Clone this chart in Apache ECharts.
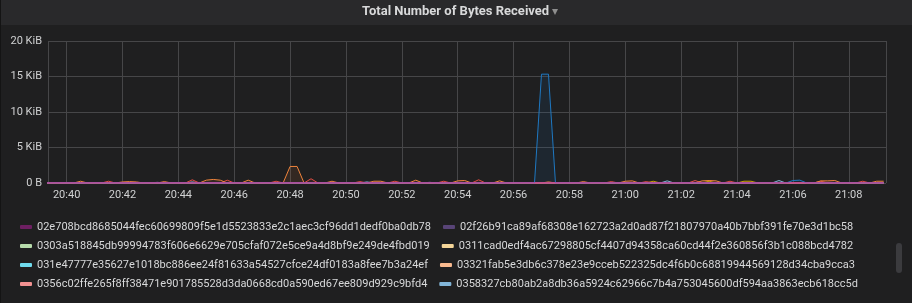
<!DOCTYPE html>
<html><head><meta charset="utf-8">
<script src="https://cdn.jsdelivr.net/npm/echarts@6/dist/echarts.min.js"></script>
<style>html,body{margin:0;padding:0;background:#1f1f20;}#c{width:912px;height:303px;}</style>
</head><body><div id="c"></div>
<script>
const DAY = '2019-01-01T';
const xMin = '20:39:20';
const xMax = '21:09:20';
const yTicks = [0, 5, 10, 15, 20]; // KiB

const legendNames = [
  '02e708bcd8685044fec60699809f5e1d5523833e2c1aec3cf96dd1dedf0ba0db78',
  '02f26b91ca89af68308e162723a2d0ad87f21807970a40b7bbf391fe70e3d1bc58',
  '0303a518845db99994783f606e6629e705cfaf072e5ce9a4d8bf9e249de4fbd019',
  '0311cad0edf4ac67298805cf4407d94358ca60cd44f2e360856f3b1c088bcd4782',
  '031e47777e35627e1018bc886ee24f81633a54527cfce24df0183a8fee7b3a24ef',
  '03321fab5e3db6c378e23e9cceb522325dc4f6b0c68819944569128d34cba9cca3',
  '0356c02ffe265f8ff38471e901785528d3da0668cd0a590ed67ee809d929c9bfd4',
  '0358327cb80ab2a8db36a5924c62966c7b4a753045600df594aa3863ecb618cc5d'
];
const legendColors = ['#6D1F62','#584477','#B7DBAB','#F4D598','#70DBED','#F9BA8F','#F29191','#82B5D8'];

// values in KiB, [time, value]
const flat = [['20:39:15',0],['21:09:15',0]];
const lightBlueVals = [['20:39:15',0],['20:44:15',0],['20:44:30',0.15],['20:44:45',0],['20:50:30',0],['20:50:45',0.15],['20:51:00',0],
  ['21:01:15',0],['21:01:30',0.3],['21:01:45',0],['21:05:15',0],['21:05:30',0.35],['21:05:45',0],['21:09:15',0]];
const violetVals = [['20:39:15',0],['20:43:00',0],['20:43:15',0.1],['20:43:30',0],['20:52:45',0],['20:53:00',0.1],['20:53:15',0],['21:09:15',0]];
const oliveVals = [['20:39:15',0],['21:00:45',0],['21:01:00',0.25],['21:01:15',0],['21:02:45',0],['21:03:00',0.25],['21:03:15',0],
  ['21:04:00',0],['21:04:15',0.25],['21:04:30',0.25],['21:04:45',0],['21:09:15',0]];
const redVals = [['20:39:15',0],['20:41:15',0],['20:41:30',0.25],['20:41:45',0],['20:44:15',0],['20:44:30',0.45],['20:44:45',0],
  ['20:45:30',0],['20:45:45',0.4],['20:46:00',0],['20:47:15',0],['20:47:30',0.25],['20:47:45',0],
  ['20:48:30',0],['20:48:45',0.6],['20:49:00',0],['20:50:15',0],['20:50:30',0.2],['20:50:45',0],
  ['20:51:30',0],['20:51:45',0.25],['20:52:00',0],['20:53:15',0],['20:53:30',0.25],['20:53:45',0],
  ['20:54:30',0],['20:54:45',0.45],['20:55:00',0],['20:59:15',0],['20:59:30',0.2],['20:59:45',0],
  ['21:00:30',0],['21:00:45',0.2],['21:01:00',0],['21:02:15',0],['21:02:30',0.35],['21:02:45',0],
  ['21:03:30',0],['21:03:45',0.25],['21:04:00',0],['21:06:45',0],['21:07:00',0.25],['21:07:15',0],
  ['21:08:15',0],['21:08:30',0.25],['21:08:45',0],['21:09:15',0]];
const orangeVals = [['20:39:15',0],['20:40:15',0],['20:40:30',0.25],['20:40:45',0],
  ['20:41:45',0],['20:42:00',0.15],['20:42:15',0.2],['20:42:30',0.15],['20:42:45',0],
  ['20:43:15',0],['20:43:30',0.2],['20:43:45',0],
  ['20:44:45',0],['20:45:00',0.4],['20:45:15',0.5],['20:45:30',0.4],['20:45:45',0],
  ['20:46:15',0],['20:46:30',0.4],['20:46:45',0],
  ['20:47:45',0],['20:48:00',2.33],['20:48:15',2.33],['20:48:30',0],
  ['20:49:15',0],['20:49:30',0.25],['20:49:45',0],
  ['20:50:45',0],['20:51:00',0.25],['20:51:15',0.25],['20:51:30',0],
  ['20:52:15',0],['20:52:30',0.4],['20:52:45',0],
  ['20:53:45',0],['20:54:00',0.3],['20:54:15',0.35],['20:54:30',0],
  ['20:55:15',0],['20:55:30',0.3],['20:55:45',0],
  ['20:57:00',0],['20:57:15',0.15],['20:57:30',0],
  ['20:58:15',0],['20:58:30',0.2],['20:58:45',0],
  ['20:59:45',0],['21:00:00',0.25],['21:00:15',0.3],['21:00:30',0],
  ['21:02:30',0],['21:02:45',0.3],['21:03:00',0.35],['21:03:15',0.3],['21:03:30',0],
  ['21:06:45',0],['21:07:00',0.3],['21:07:15',0.3],['21:07:30',0.35],['21:07:45',0],
  ['21:08:45',0],['21:09:00',0.25],['21:09:15',0.25]];
const blueVals = [['20:39:15',0],['20:56:45',0],['20:57:00',15.33],['20:57:15',15.33],['20:57:30',0],
  ['21:05:45',0],['21:06:00',0.35],['21:06:15',0.4],['21:06:30',0],['21:09:15',0]];
const purpleVals = [['20:39:15',0],['21:09:15',0]];

function t(s){ return new Date(DAY + s).getTime(); }
function pts(arr){ return arr.map(p => [t(p[0]), p[1]]); }
function pad(n){ return (n < 10 ? '0' : '') + n; }

function mk(name, color, vals, lw){
  return {
    name: name, type: 'line', data: pts(vals), showSymbol: false, symbol: 'none',
    lineStyle: {color: color, width: lw || 1}, itemStyle: {color: color},
    areaStyle: {color: color, opacity: 0.1}, animation: false, clip: true
  };
}

const series = [];
const legendData = [];
const legendVals = [flat, flat, flat, flat, flat, flat, flat, lightBlueVals];
legendNames.forEach((n, i) => {
  series.push(mk(n, legendColors[i], legendVals[i]));
  legendData.push({name: n, itemStyle: {color: legendColors[i]}});
});
series.push(mk('violet', '#705DA0', violetVals));
series.push(mk('olive', '#CCA300', oliveVals));
series.push(mk('red', '#E24D42', redVals));
series.push(mk('orange', '#EF843C', orangeVals));
series.push(mk('blue', '#1F78C1', blueVals));
series.push(mk('purple', '#BA43A9', purpleVals, 1.6));

const chart = echarts.init(document.getElementById('c'), null, {renderer: 'canvas'});
chart.setOption({
  backgroundColor: '#1f1f20',
  animation: false,
  graphic: [
    {type: 'rect', left: 0, top: 0, shape: {width: 912, height: 25}, style: {fill: '#29292b'}, z: -10, silent: true},
    {type: 'rect', left: 0, top: 0, shape: {width: 1, height: 303}, style: {fill: '#141414'}, silent: true},
    {type: 'text', left: 362, top: 5, style: {text: 'Total Number of Bytes Received', fill: '#d8d9da',
      font: 'bold 13px "Liberation Sans Narrow", Roboto, sans-serif'}, silent: true},
    {type: 'text', left: 552, top: 6, style: {text: '\u25BE', fill: '#8e8e8e', font: '12px "DejaVu Sans", sans-serif'}, silent: true},
    {type: 'rect', left: 896, top: 243, shape: {width: 6, height: 30, r: 3}, style: {fill: '#3b3b3e'}, silent: true}
  ],
  grid: {left: 48, right: 26, top: 41, bottom: 120, containLabel: false},
  xAxis: {
    type: 'time', min: t(xMin), max: t(xMax),
    splitNumber: 10,
    axisLine: {show: false}, axisTick: {show: false},
    axisLabel: {color: '#d0d1d2', fontSize: 11, fontFamily: 'Roboto', margin: 7,
      formatter: function(v){ const d = new Date(v); return pad(d.getHours()) + ':' + pad(d.getMinutes()); },
      showMinLabel: false, showMaxLabel: false},
    splitLine: {show: true, lineStyle: {color: '#464648', width: 1}}
  },
  yAxis: {
    type: 'value', min: yTicks[0], max: yTicks[yTicks.length - 1], interval: 5,
    axisLine: {show: false}, axisTick: {show: false},
    axisLabel: {color: '#d0d1d2', fontSize: 11, fontFamily: 'Roboto', margin: 6,
      formatter: function(v){ return v === 0 ? '0 B' : v + ' KiB'; }},
    splitLine: {show: true, lineStyle: {color: '#464648', width: 1}}
  },
  legend: {
    type: 'plain', orient: 'horizontal', left: 20, top: 220, width: 860, padding: 0,
    itemGap: 5, itemWidth: 12, itemHeight: 4, icon: 'roundRect', selectedMode: false,
    textStyle: {color: '#d8d9da', fontSize: 11, fontFamily: 'Roboto', lineHeight: 14, padding: [0, 7, 0, 0]},
    data: legendData
  },
  series: series
});
</script></body></html>
